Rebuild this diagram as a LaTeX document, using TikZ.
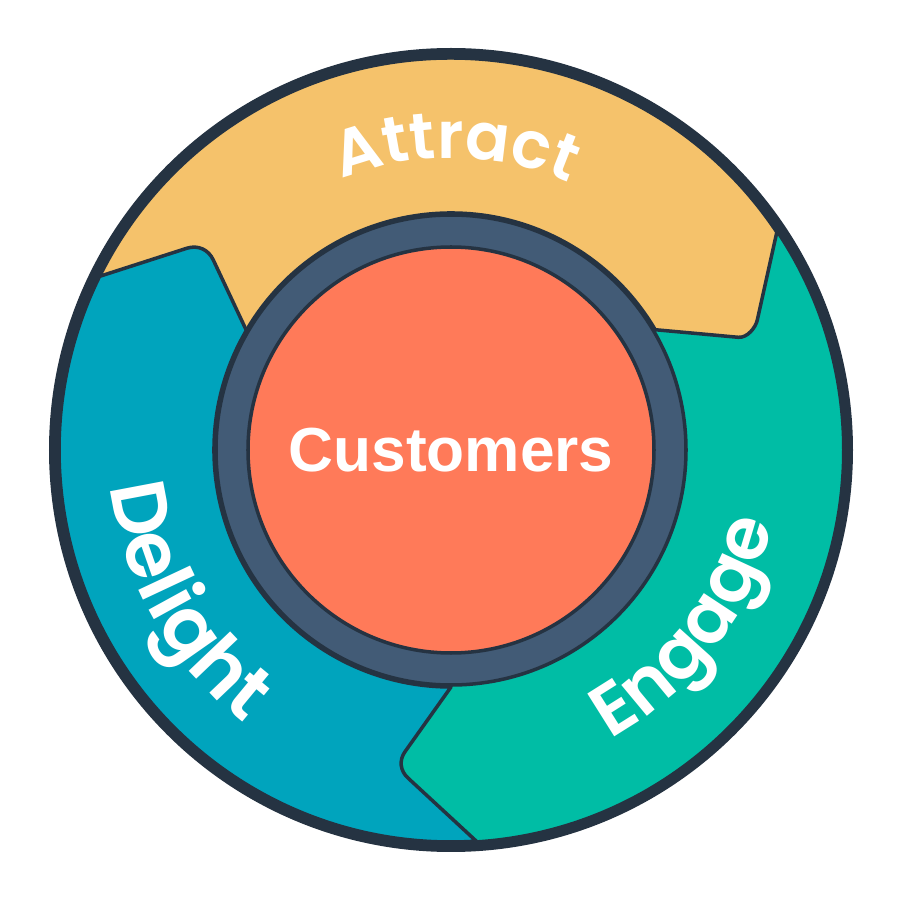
\documentclass[tikz,border=0pt]{standalone}
\usepackage{fontspec}
\setmainfont{Liberation Sans}
\newfontfamily\labelfont{Poppins}[UprightFont=* SemiBold]
\usetikzlibrary{calc,decorations.text}
\definecolor{obsidian}{HTML}{253342}
\definecolor{attractcol}{HTML}{F5C26B}
\definecolor{delightcol}{HTML}{00A4BD}
\definecolor{engagecol}{HTML}{00BDA5}
\definecolor{ringcol}{HTML}{425B76}
\definecolor{corecol}{HTML}{FF7A59}
\tikzset{
  wedge/.style={draw=obsidian,line width=1pt,line join=round},
  arclabel/.style 2 args={decorate,decoration={text along path,text align=center,
      text={|\labelfont\fontsize{#1}{24pt}\selectfont\color{white}|#2}}}
}
\begin{document}
\begin{tikzpicture}
  \useasboundingbox (0,0) rectangle (9,9);
  \coordinate (hub) at (4.51,4.5);
  % base disc, it shows as the engage part
  \fill[engagecol] (hub) circle (3.95);
  % attract part
  \draw[wedge,fill=attractcol]
       (1.007,6.24) -- ($(hub)+(149.7:2.37)$) arc (149.7:30.5:2.37)
       -- (7.383,5.627) .. controls (7.473,5.619) and (7.557,5.725) .. (7.573,5.80)
       -- (7.767,6.673) -- ($(hub)+(33.7:3.92)$) arc (33.7:153.6:3.92) -- cycle;
  % delight part
  \draw[wedge,fill=delightcol]
       (1.007,6.24) -- (1.867,6.517) .. controls (1.978,6.553) and (2.084,6.506) .. (2.133,6.40)
       -- ($(hub)+(149.7:2.37)$) arc (149.7:270:2.37)
       -- (4.05,1.483) .. controls (3.988,1.396) and (4.001,1.29) .. (4.083,1.217)
       -- ($(hub)+(273.7:3.92)$) arc (273.7:153.6:3.92) -- cycle;
  % rim and centre
  \draw[obsidian,line width=0.11cm] (hub) circle (3.965);
  \draw[wedge,fill=ringcol] (hub) circle (2.35);
  \node[circle,draw=obsidian,line width=1pt,fill=corecol,minimum size=4.06cm,inner sep=0pt,
        text=white,font=\fontsize{17.7pt}{20pt}\selectfont\bfseries] (customers) at (hub) {Customers};
  % labels on the arcs
  \path[arclabel={18.6pt}{Attract}] ($(hub)+(139:2.92)$) arc (139:39:2.92);
  \path[arclabel={20.6pt}{Engage}] ($(hub)+(-87:3.3)$) arc (-87:13:3.3);
  \path[arclabel={22pt}{Delight}] ($(hub)+(159.5:3.42)$) arc (159.5:259.5:3.42);
\end{tikzpicture}
\end{document}
